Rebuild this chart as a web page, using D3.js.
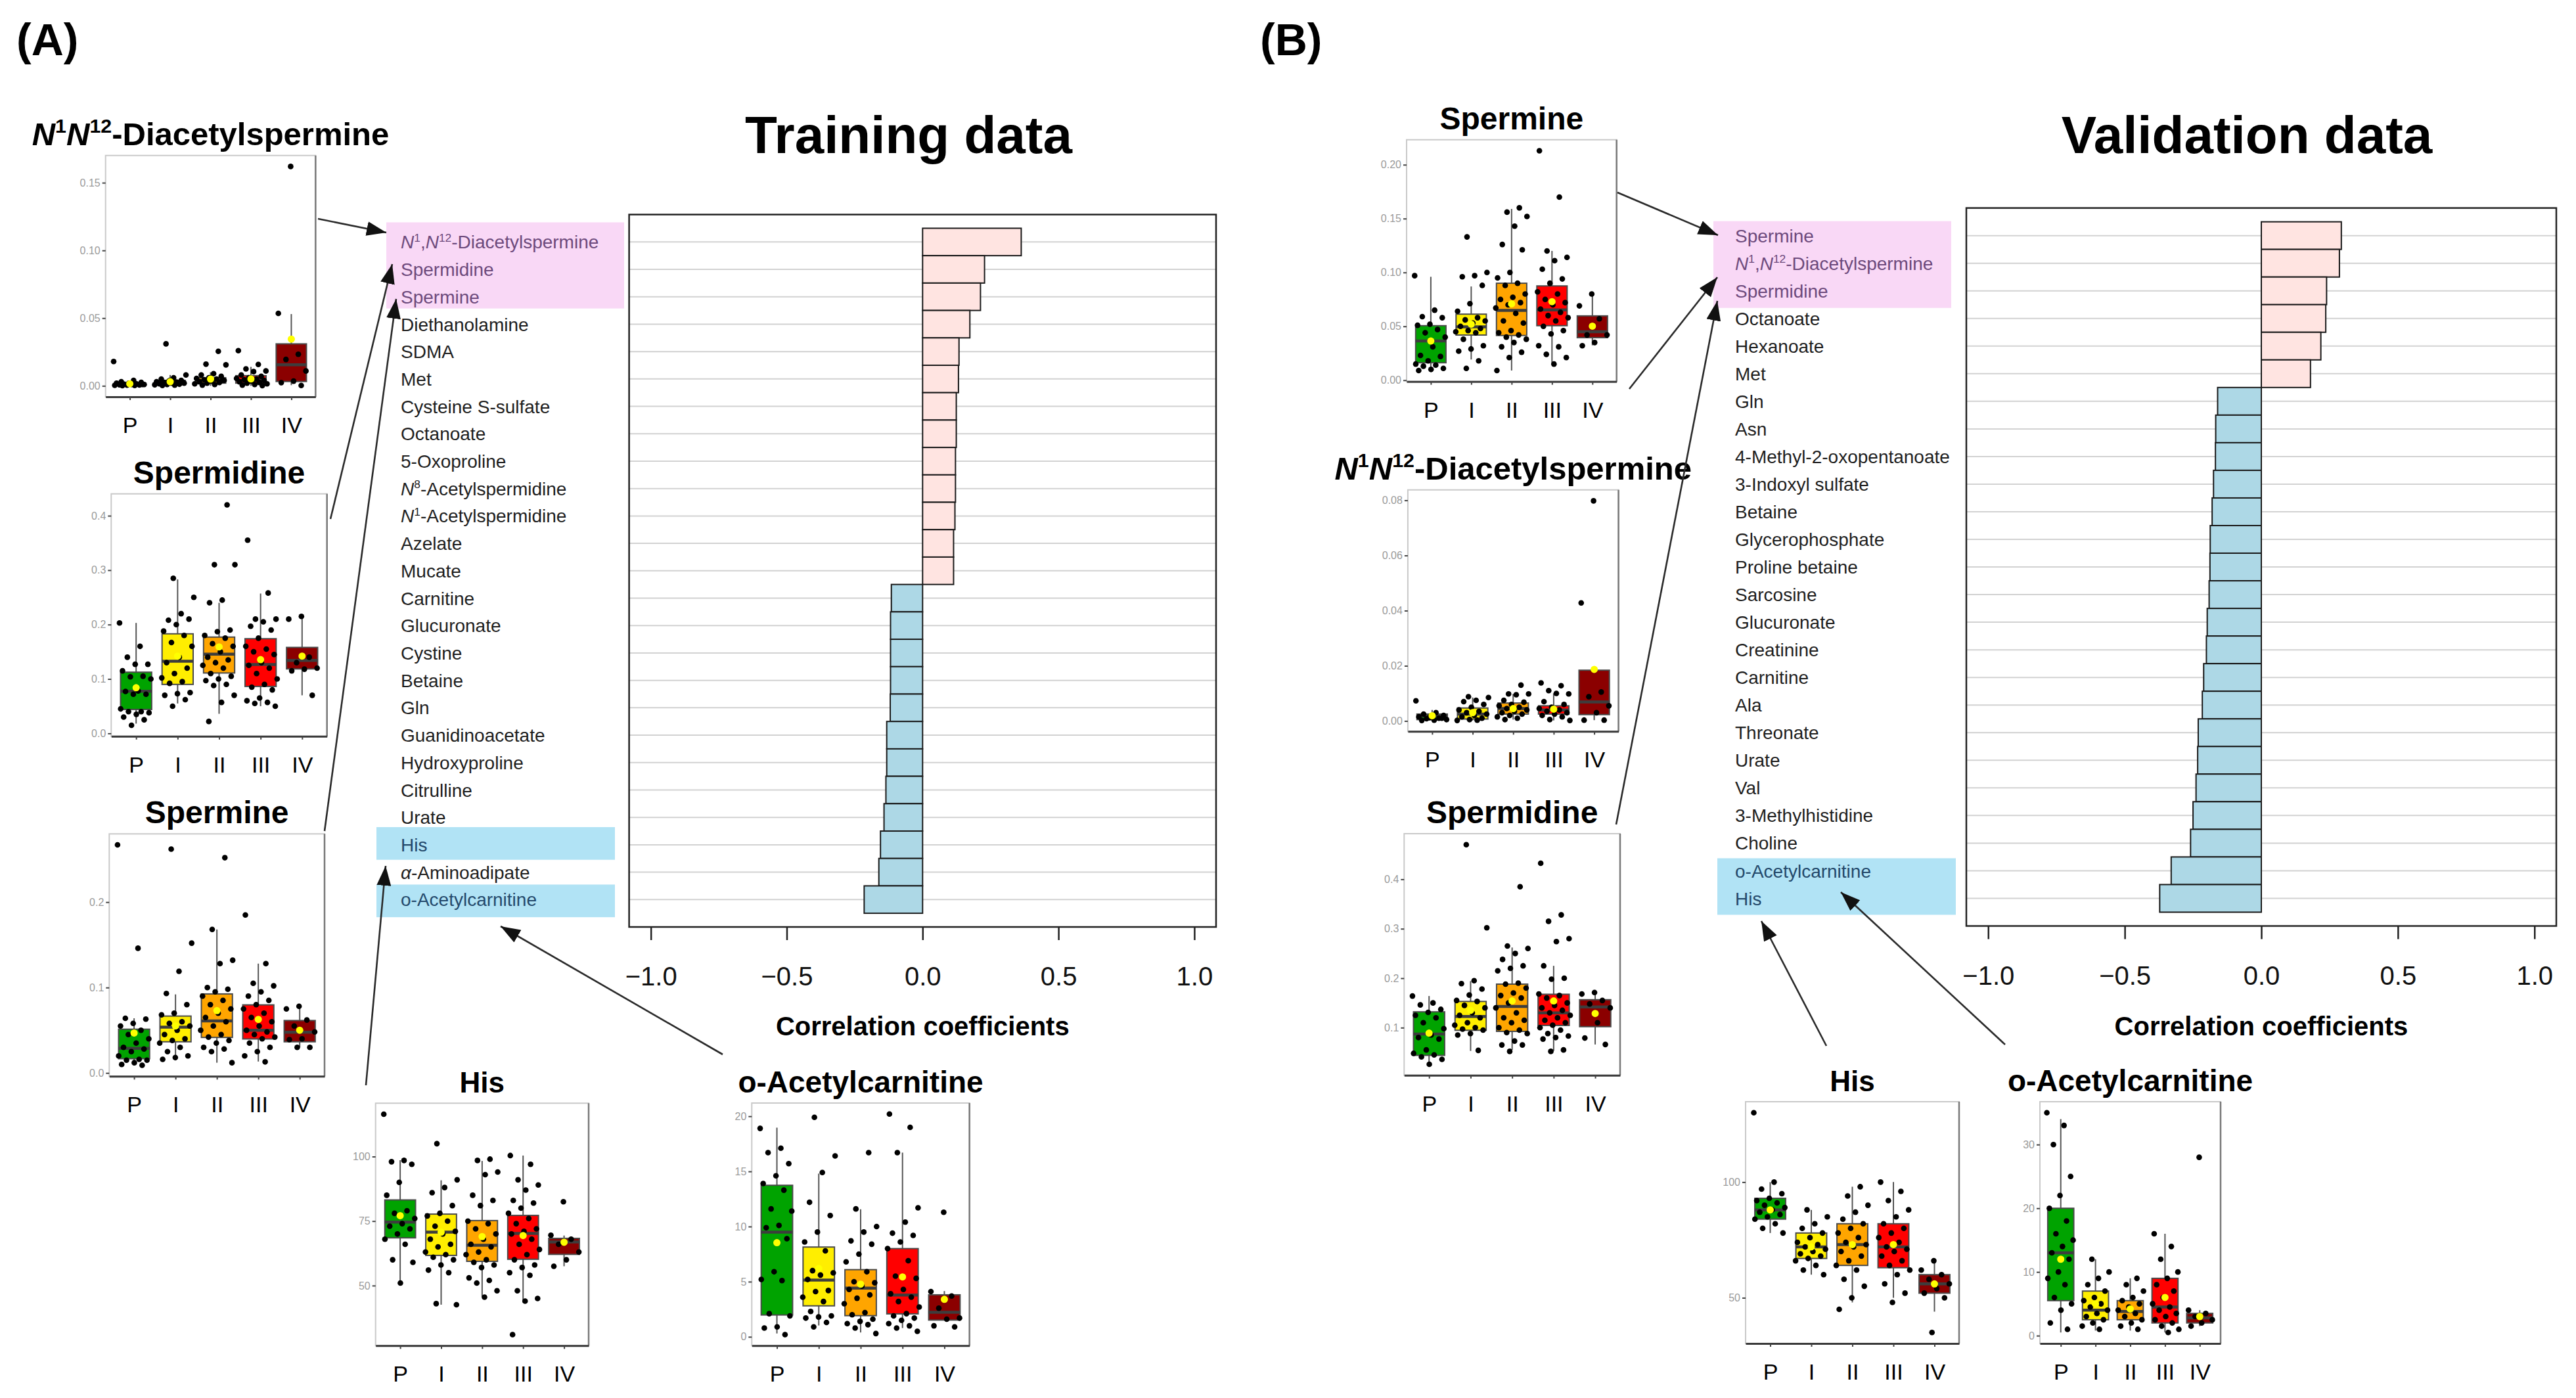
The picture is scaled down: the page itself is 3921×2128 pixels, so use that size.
<!DOCTYPE html>
<html><head><meta charset="utf-8">
<script src="https://cdn.jsdelivr.net/npm/d3@7"></script>
<style>
body{margin:0;background:#fff;}
svg{display:block;font-family:"Liberation Sans",Arial,Helvetica,sans-serif;}
</style></head><body>
<svg id="fig" width="3921" height="2128"></svg>
<script>
// ================= DATA =================
const stageGroups = ["P", "I", "II", "III", "IV"];
const corrTicks = [-1, -0.5, 0, 0.5, 1];

const trainLabels = ["*N*^{1},*N*^{12}-Diacetylspermine", "Spermidine", "Spermine", "Diethanolamine", "SDMA", "Met",
  "Cysteine S-sulfate", "Octanoate", "5-Oxoproline", "*N*^{8}-Acetylspermidine", "*N*^{1}-Acetylspermidine", "Azelate",
  "Mucate", "Carnitine", "Glucuronate", "Cystine", "Betaine", "Gln", "Guanidinoacetate", "Hydroxyproline",
  "Citrulline", "Urate", "His", "*α*-Aminoadipate", "o-Acetylcarnitine"];
const trainValues = [0.363, 0.228, 0.213, 0.174, 0.134, 0.132, 0.124, 0.124, 0.121, 0.121, 0.119, 0.114, 0.114,
  -0.115, -0.118, -0.118, -0.118, -0.119, -0.132, -0.132, -0.135, -0.142, -0.155, -0.161, -0.215];

const validLabels = ["Spermine", "*N*^{1},*N*^{12}-Diacetylspermine", "Spermidine", "Octanoate", "Hexanoate", "Met",
  "Gln", "Asn", "4-Methyl-2-oxopentanoate", "3-Indoxyl sulfate", "Betaine", "Glycerophosphate", "Proline betaine",
  "Sarcosine", "Glucuronate", "Creatinine", "Carnitine", "Ala", "Threonate", "Urate", "Val", "3-Methylhistidine",
  "Choline", "o-Acetylcarnitine", "His"];
const validValues = [0.293, 0.286, 0.239, 0.236, 0.218, 0.180, -0.160, -0.167, -0.168, -0.175, -0.180, -0.187,
  -0.188, -0.191, -0.198, -0.201, -0.211, -0.216, -0.231, -0.233, -0.239, -0.250, -0.259, -0.330, -0.372];

// Box statistics per stage: [lower whisker, Q1, median, Q3, upper whisker, mean]
const trDiacetylStats = [[0.0, 0.0005, 0.001, 0.002, 0.004, 0.0015], [0.0, 0.001, 0.002, 0.004, 0.008, 0.003],
  [0.0, 0.002, 0.004, 0.006, 0.010, 0.005], [0.0, 0.002, 0.004, 0.0075, 0.014, 0.0051], [0.0005, 0.0032, 0.0155, 0.031, 0.053, 0.0345]];
const trDiacetylPoints = [
  [0.018, 0.004, 0.003, 0.0025, 0.002, 0.002, 0.0015, 0.0012, 0.001, 0.001, 0.0008, 0.0006, 0.0005, 0.0004, 0.0003, 0.0002, 0.001, 0.0015],
  [0.031, 0.008, 0.006, 0.005, 0.004, 0.0035, 0.003, 0.0028, 0.0025, 0.002, 0.002, 0.0015, 0.0012, 0.001, 0.0008, 0.0005, 0.0003, 0.003, 0.004],
  [0.0255, 0.016, 0.0155, 0.009, 0.008, 0.007, 0.006, 0.0055, 0.005, 0.0045, 0.004, 0.0035, 0.003, 0.0025, 0.002, 0.0015, 0.001, 0.0005, 0.004, 0.006],
  [0.026, 0.0158, 0.0125, 0.011, 0.0105, 0.008, 0.007, 0.006, 0.0055, 0.005, 0.0045, 0.004, 0.0035, 0.003, 0.0025, 0.002, 0.0015, 0.001, 0.0005, 0.0002],
  [0.162, 0.0535, 0.0233, 0.0195, 0.0110, 0.0035, 0.0023, 0.0003]];
const trDiacetylTicks = [0, 0.05, 0.10, 0.15];

const trSpermidineStats = [[0.018, 0.044, 0.0774, 0.1125, 0.203, 0.084], [0.055, 0.090, 0.1327, 0.183, 0.283, 0.142],
  [0.036, 0.111, 0.1456, 0.177, 0.240, 0.159], [0.050, 0.0863, 0.1266, 0.174, 0.257, 0.1355], [0.070, 0.1185, 0.134, 0.158, 0.211, 0.142]];
const trSpermidinePoints = [
  [0.203, 0.16, 0.14, 0.127, 0.127, 0.115, 0.105, 0.104, 0.10, 0.078, 0.077, 0.072, 0.072, 0.045, 0.04, 0.04, 0.038, 0.035, 0.03, 0.025, 0.015],
  [0.285, 0.25, 0.22, 0.208, 0.21, 0.20, 0.188, 0.18, 0.167, 0.16, 0.14, 0.13, 0.12, 0.11, 0.102, 0.095, 0.092, 0.075, 0.073, 0.07, 0.062, 0.05],
  [0.42, 0.31, 0.31, 0.245, 0.24, 0.19, 0.187, 0.18, 0.175, 0.165, 0.16, 0.15, 0.14, 0.135, 0.13, 0.125, 0.12, 0.11, 0.105, 0.10, 0.097, 0.09, 0.088, 0.07, 0.057, 0.022],
  [0.355, 0.258, 0.21, 0.21, 0.205, 0.197, 0.19, 0.175, 0.16, 0.155, 0.15, 0.145, 0.13, 0.125, 0.12, 0.11, 0.10, 0.09, 0.085, 0.08, 0.065, 0.06, 0.057, 0.055, 0.05],
  [0.215, 0.21, 0.14, 0.13, 0.12, 0.118, 0.115, 0.07]];
const trSpermidineTicks = [0, 0.1, 0.2, 0.3, 0.4];

const trSpermineStats = [[0.009, 0.0167, 0.0288, 0.0512, 0.064, 0.0468], [0.016, 0.0365, 0.0537, 0.0666, 0.092, 0.055],
  [0.012, 0.0416, 0.061, 0.0925, 0.168, 0.073], [0.0134, 0.0398, 0.050, 0.0797, 0.128, 0.0627], [0.030, 0.0365, 0.0476, 0.0614, 0.0756, 0.050]];
const trSperminePoints = [
  [0.267, 0.146, 0.064, 0.063, 0.058, 0.055, 0.05, 0.045, 0.04, 0.035, 0.03, 0.028, 0.025, 0.02, 0.016, 0.015, 0.015, 0.012, 0.01, 0.009],
  [0.262, 0.152, 0.119, 0.093, 0.08, 0.07, 0.068, 0.06, 0.058, 0.055, 0.05, 0.045, 0.04, 0.038, 0.035, 0.03, 0.025, 0.02, 0.018, 0.016],
  [0.252, 0.168, 0.132, 0.128, 0.10, 0.098, 0.095, 0.09, 0.085, 0.08, 0.075, 0.07, 0.065, 0.06, 0.055, 0.05, 0.045, 0.042, 0.038, 0.035, 0.03, 0.028, 0.025, 0.012],
  [0.185, 0.128, 0.105, 0.102, 0.095, 0.09, 0.085, 0.08, 0.075, 0.07, 0.065, 0.06, 0.055, 0.05, 0.048, 0.045, 0.042, 0.04, 0.035, 0.03, 0.025, 0.02, 0.013],
  [0.078, 0.075, 0.062, 0.055, 0.048, 0.04, 0.039, 0.03, 0.03]];
const trSpermineTicks = [0, 0.1, 0.2];

const trHisStats = [[50.7, 68.5, 74.6, 83.2, 98.6, 77.1], [42.6, 61.7, 70.7, 77.7, 90.8, 70.7],
  [45.7, 59.4, 65.6, 75.2, 98.3, 69.0], [43.5, 60.2, 70.2, 77.2, 100.4, 69.4], [57.5, 62.1, 66.9, 68.3, 69.4, 66.8]];
const trHisPoints = [
  [116.4, 98.5, 98, 97, 90, 85, 79, 78, 76, 74, 73, 72, 70, 68, 66, 60, 59, 51],
  [105, 91, 88, 86, 81, 78, 77, 75, 73, 71, 70, 68, 66, 65, 63, 62, 61, 60, 58, 56, 55, 43, 42.6],
  [99, 98.5, 94, 93, 85, 83, 81, 75, 74, 72, 70, 68, 66, 65, 63, 62, 60, 59, 58, 57, 53, 52, 51, 48, 45.5],
  [100.4, 97, 91, 89, 87, 83, 82, 80, 78, 76, 74, 72, 71, 70, 68, 66, 64, 62, 60, 58, 57, 55, 54, 48, 45, 44, 31],
  [82.5, 69.5, 68, 66, 63, 60, 57.5]];
const trHisTicks = [50, 75, 100];

const trAcetylStats = [[0.3, 1.98, 9.49, 13.74, 18.97, 8.54], [1.03, 2.81, 5.14, 8.14, 14.8, 6.2],
  [0.4, 1.92, 4.41, 6.09, 11.56, 4.78], [0.79, 2.08, 3.79, 8.0, 16.7, 5.43], [1.52, 1.52, 2.23, 3.81, 4.15, 3.40]];
const trAcetylPoints = [
  [18.9, 17.1, 16.7, 15.7, 14.6, 13.9, 13.3, 11.6, 11.4, 10.1, 9.9, 8.9, 5.9, 5.2, 5.1, 2.1, 1.9, 0.9, 0.8, 0.2],
  [19.9, 16.4, 14.9, 12.2, 11.0, 9.5, 8.6, 7.8, 6.0, 5.8, 5.6, 5.2, 4.2, 4.1, 3.6, 3.2, 2.3, 1.9, 1.8, 1.7, 1.3, 0.9],
  [16.7, 11.6, 10.0, 9.5, 8.7, 8.4, 7.5, 6.8, 5.9, 5.0, 4.9, 4.6, 4.3, 3.8, 3.5, 3.0, 2.2, 2.0, 1.6, 1.4, 1.2, 1.1, 0.8, 0.3],
  [20.2, 19.0, 16.7, 11.7, 10.4, 9.4, 9.2, 8.6, 8.0, 6.9, 5.5, 5.3, 4.3, 3.9, 3.6, 3.2, 2.7, 2.1, 1.9, 1.7, 1.5, 1.2, 1.0, 0.8, 0.5],
  [11.3, 4.1, 3.7, 2.6, 1.7, 1.6, 1.0, 0.9]];
const trAcetylTicks = [0, 5, 10, 15, 20];

const vaSpermineStats = [[0.009, 0.0162, 0.0364, 0.0506, 0.096, 0.0364], [0.0192, 0.0419, 0.0496, 0.0613, 0.087, 0.052],
  [0.009, 0.0415, 0.0648, 0.090, 0.159, 0.0709], [0.0152, 0.0506, 0.0652, 0.0875, 0.120, 0.0729], [0.0324, 0.0395, 0.045, 0.0597, 0.079, 0.0502]];
const vaSperminePoints = [
  [0.097, 0.065, 0.059, 0.058, 0.052, 0.051, 0.047, 0.044, 0.040, 0.031, 0.023, 0.022, 0.018, 0.015, 0.014, 0.013, 0.011, 0.010, 0.009],
  [0.133, 0.100, 0.097, 0.096, 0.088, 0.071, 0.064, 0.058, 0.056, 0.055, 0.053, 0.050, 0.048, 0.046, 0.045, 0.044, 0.038, 0.032, 0.029, 0.027, 0.018, 0.011],
  [0.160, 0.156, 0.152, 0.143, 0.126, 0.121, 0.100, 0.095, 0.090, 0.088, 0.080, 0.077, 0.075, 0.072, 0.070, 0.067, 0.062, 0.055, 0.053, 0.046, 0.044, 0.042, 0.040, 0.038, 0.035, 0.031, 0.026, 0.021, 0.009],
  [0.213, 0.170, 0.120, 0.114, 0.111, 0.103, 0.094, 0.090, 0.082, 0.080, 0.075, 0.072, 0.070, 0.066, 0.063, 0.060, 0.058, 0.055, 0.050, 0.046, 0.043, 0.032, 0.031, 0.024, 0.021, 0.015],
  [0.080, 0.069, 0.057, 0.042, 0.042, 0.035, 0.032]];
const vaSpermineTicks = [0, 0.05, 0.10, 0.15, 0.20];

const vaDiacetylStats = [[0.0002, 0.0005, 0.0018, 0.0025, 0.004, 0.0019], [0.0002, 0.0007, 0.0025, 0.0047, 0.0085, 0.003],
  [0.0005, 0.0025, 0.0045, 0.0065, 0.0098, 0.0045], [0.0002, 0.0025, 0.004, 0.0055, 0.010, 0.0043], [0.0003, 0.0023, 0.0069, 0.0184, 0.0184, 0.0187]];
const vaDiacetylPoints = [
  [0.0073, 0.003, 0.0025, 0.002, 0.0018, 0.0015, 0.001, 0.0008, 0.0005, 0.0003, 0.0002, 0.001, 0.0012],
  [0.0088, 0.0085, 0.0075, 0.007, 0.006, 0.005, 0.004, 0.0035, 0.003, 0.0025, 0.002, 0.0015, 0.001, 0.0005, 0.0002, 0.0003],
  [0.013, 0.0098, 0.0098, 0.0095, 0.0075, 0.0068, 0.006, 0.0055, 0.005, 0.0045, 0.004, 0.0035, 0.003, 0.0025, 0.002, 0.0015, 0.001, 0.0005],
  [0.0138, 0.0128, 0.011, 0.0098, 0.010, 0.007, 0.006, 0.005, 0.0045, 0.004, 0.0035, 0.003, 0.0025, 0.002, 0.0015, 0.0005, 0.0002],
  [0.0798, 0.0428, 0.0105, 0.0088, 0.0055, 0.003, 0.0003, 0.0003]];
const vaDiacetylTicks = [0, 0.02, 0.04, 0.06, 0.08];

const vaSpermidineStats = [[0.031, 0.044, 0.087, 0.132, 0.164, 0.089], [0.053, 0.0947, 0.1225, 0.153, 0.194, 0.135],
  [0.055, 0.0925, 0.143, 0.188, 0.262, 0.154], [0.053, 0.1045, 0.130, 0.1675, 0.225, 0.154], [0.066, 0.102, 0.142, 0.1565, 0.169, 0.1287]];
const vaSpermidinePoints = [
  [0.164, 0.150, 0.146, 0.137, 0.131, 0.125, 0.12, 0.11, 0.098, 0.085, 0.08, 0.077, 0.055, 0.048, 0.045, 0.041, 0.036, 0.026],
  [0.47, 0.302, 0.195, 0.189, 0.178, 0.166, 0.155, 0.153, 0.145, 0.14, 0.13, 0.125, 0.12, 0.11, 0.105, 0.10, 0.097, 0.095, 0.088, 0.085, 0.054],
  [0.385, 0.265, 0.26, 0.25, 0.238, 0.225, 0.22, 0.215, 0.19, 0.188, 0.18, 0.17, 0.165, 0.16, 0.15, 0.14, 0.13, 0.12, 0.115, 0.11, 0.10, 0.095, 0.09, 0.088, 0.073, 0.065, 0.065, 0.052],
  [0.4325, 0.328, 0.315, 0.28, 0.274, 0.225, 0.20, 0.198, 0.168, 0.165, 0.16, 0.15, 0.145, 0.14, 0.135, 0.13, 0.125, 0.12, 0.115, 0.11, 0.105, 0.10, 0.095, 0.088, 0.083, 0.08, 0.077, 0.055, 0.052],
  [0.171, 0.168, 0.155, 0.148, 0.14, 0.11, 0.079, 0.066]];
const vaSpermidineTicks = [0.1, 0.2, 0.3, 0.4];

const vaHisStats = [[78, 84, 88, 93, 100, 88], [60, 67, 72, 78, 88, 72], [48, 64, 73, 82, 98, 73],
  [50, 63, 72, 82, 100, 73], [44, 52, 56, 60, 66, 56]];
const vaHisPoints = [
  [130, 100, 97, 95, 93, 92, 91, 90, 89, 88, 87, 86, 85, 84, 82, 80, 78],
  [88, 85, 82, 80, 78, 76, 74, 73, 72, 71, 70, 69, 68, 67, 66, 64, 62, 60],
  [98, 94, 90, 87, 84, 82, 80, 78, 76, 74, 73, 72, 70, 68, 66, 64, 62, 58, 55, 50, 45],
  [100, 96, 92, 88, 85, 82, 80, 78, 76, 74, 72, 71, 70, 68, 66, 64, 62, 60, 56, 52, 48],
  [66, 62, 60, 58, 56, 54, 52, 50, 35]];
const vaHisTicks = [50, 100];

const vaAcetylStats = [[0.5, 5.5, 13, 20, 34, 12], [0.8, 2.5, 4, 7, 12, 5], [0.8, 2.5, 3.8, 5.5, 9, 4.2],
  [0.5, 2, 4.5, 9, 16, 6], [1.5, 2, 2.8, 3.5, 4, 3]];
const vaAcetylPoints = [
  [35, 33, 30, 25, 22, 20, 18, 16, 15, 14, 13, 12, 10, 9, 8, 6, 5, 4, 2, 1],
  [12, 10, 9, 8, 7, 6, 5.5, 5, 4.5, 4, 3.5, 3, 2.5, 2, 1.5, 1],
  [9, 8, 7, 6, 5.5, 5, 4.5, 4, 3.5, 3, 2.5, 2, 1.5, 1],
  [16, 14, 12, 10, 9, 8, 7, 6, 5, 4.5, 4, 3.5, 3, 2.5, 2, 1.5, 1, 0.5],
  [28, 4, 3.5, 3, 2.5, 2, 1.5]];
const vaAcetylTicks = [0, 10, 20, 30];

// ================= STYLE / LAYOUT =================
const stageColors = ["#00a300", "#ffee00", "#ffa500", "#ff0000", "#8b0000"];
const posFill = "#ffe4e1", negFill = "#add8e6";
const pinkBg = "#f9d8f6", blueBg = "#b1e3f5";
const pinkText = "#6d4a7c", blueText = "#24496b";

const corrLayout = [
  { labels: trainLabels, values: trainValues, frame: [957.6, 326.6, 1851, 1411], labelX: 610,
    title: "Training data", titleX: 1383,
    highlights: [
      { from: 0, to: 2, x0: 588, x1: 950, padTop: 9, padBottom: -3, fill: pinkBg, text: pinkText },
      { from: 22, to: 22, x0: 573, x1: 936, padTop: 6, padBottom: 2, fill: blueBg, text: blueText },
      { from: 24, to: 24, x0: 573, x1: 936, padTop: 2, padBottom: 6, fill: blueBg, text: blueText }] },
  { labels: validLabels, values: validValues, frame: [2993, 316.6, 3891, 1409.5], labelX: 2641,
    title: "Validation data", titleX: 3420,
    highlights: [
      { from: 0, to: 2, x0: 2608, x1: 2970, padTop: 1, padBottom: 5, fill: pinkBg, text: pinkText },
      { from: 23, to: 24, x0: 2614, x1: 2977, padTop: -2, padBottom: 4, fill: blueBg, text: blueText }] }
];

const boxLayout = [
  { title: "*N*^{1}*N*^{12}-Diacetylspermine", size: 49, stats: trDiacetylStats, points: trDiacetylPoints, ticks: trDiacetylTicks, fmt: ".2f", frame: [160.7, 236.7, 480.3, 604] },
  { title: "Spermidine", size: 48, stats: trSpermidineStats, points: trSpermidinePoints, ticks: trSpermidineTicks, fmt: ".1f", frame: [169.3, 751.7, 497.7, 1120.7] },
  { title: "Spermine", size: 48, stats: trSpermineStats, points: trSperminePoints, ticks: trSpermineTicks, fmt: ".1f", frame: [166.3, 1269.3, 494, 1638.3] },
  { title: "His", size: 44, stats: trHisStats, points: trHisPoints, ticks: trHisTicks, fmt: "d", frame: [571.7, 1679.3, 896, 2048.3] },
  { title: "o-Acetylcarnitine", size: 46, stats: trAcetylStats, points: trAcetylPoints, ticks: trAcetylTicks, fmt: "d", frame: [1144.3, 1679, 1475.7, 2048.3] },
  { title: "Spermine", size: 48, stats: vaSpermineStats, points: vaSperminePoints, ticks: vaSpermineTicks, fmt: ".2f", frame: [2141, 212.7, 2460.7, 580.7] },
  { title: "*N*^{1}*N*^{12}-Diacetylspermine", size: 49, stats: vaDiacetylStats, points: vaDiacetylPoints, ticks: vaDiacetylTicks, fmt: ".2f", frame: [2142.9, 745.7, 2463.6, 1113.3] },
  { title: "Spermidine", size: 48, stats: vaSpermidineStats, points: vaSpermidinePoints, ticks: vaSpermidineTicks, fmt: ".1f", frame: [2137.3, 1269, 2466, 1636.7] },
  { title: "His", size: 44, stats: vaHisStats, points: vaHisPoints, ticks: vaHisTicks, fmt: "d", frame: [2657, 1677, 2982, 2045] },
  { title: "o-Acetylcarnitine", size: 46, stats: vaAcetylStats, points: vaAcetylPoints, ticks: vaAcetylTicks, fmt: "d", frame: [3105, 1677, 3380, 2045] }
];

const arrowLayout = [
  [[484, 333], [588, 354]], [[503, 790], [597, 402]], [[494, 1265], [603, 455]],
  [[557, 1652], [587, 1318]], [[1100, 1605], [762, 1410]],
  [[2462, 293], [2615, 358]], [[2480, 592], [2614, 422]], [[2460, 1255], [2614, 458]],
  [[2780, 1592], [2681, 1402]], [[3052, 1590], [2802, 1358]]
];

// ================= RENDER =================
const svg = d3.select("#fig");
svg.append("rect").attr("width", 3921).attr("height", 2128).attr("fill", "#fff");

function rich(sel, markup, size) {
  const parts = markup.split(/(\*[^*]+\*|\^\{[^}]+\})/).filter(s => s.length);
  let shift = 0;
  parts.forEach(p => {
    const t = sel.append("tspan");
    let target = 0;
    if (p[0] === "*") t.text(p.slice(1, -1)).attr("font-style", "italic");
    else if (p[0] === "^") { t.text(p.slice(2, -1)).attr("font-size", size * 0.62); target = -size * 0.38; }
    else t.text(p);
    if (target !== shift) { t.attr("dy", target - shift); shift = target; }
  });
}

// panel letters
svg.append("text").attr("x", 25).attr("y", 84).attr("font-size", 68).attr("font-weight", "bold").text("(A)");
svg.append("text").attr("x", 1918).attr("y", 84).attr("font-size", 68).attr("font-weight", "bold").text("(B)");

// correlation bar charts
corrLayout.forEach(cfg => {
  const [fx0, fy0, fx1, fy1] = cfg.frame;
  const g = svg.append("g");
  const x = d3.scaleLinear().domain([-1.08, 1.08]).range([fx0, fx1]);
  const y = d3.scaleBand().domain(cfg.labels).range([fy0, fy1]).paddingInner(0).paddingOuter(0.5);
  const bw = y.bandwidth();
  const textColor = new Map();
  cfg.highlights.forEach(h => {
    const top = y(cfg.labels[h.from]) - h.padTop;
    const bot = y(cfg.labels[h.to]) + bw + h.padBottom;
    g.append("rect").attr("x", h.x0).attr("y", top).attr("width", h.x1 - h.x0).attr("height", bot - top).attr("fill", h.fill);
    for (let i = h.from; i <= h.to; i++) textColor.set(cfg.labels[i], h.text);
  });
  cfg.labels.forEach(lab => {
    const t = g.append("text").attr("x", cfg.labelX).attr("y", y(lab) + bw / 2).attr("dy", "0.36em")
      .attr("font-size", 28).attr("fill", textColor.get(lab) || "#1e1e1e");
    rich(t, lab, 28);
  });
  // title
  g.append("text").attr("x", cfg.titleX).attr("y", 233).attr("text-anchor", "middle")
    .attr("font-size", 80).attr("font-weight", "bold").text(cfg.title);
  // grid lines
  g.selectAll("line.grid").data(cfg.labels).join("line")
    .attr("x1", fx0).attr("x2", fx1).attr("y1", d => y(d) + bw / 2).attr("y2", d => y(d) + bw / 2)
    .attr("stroke", "#d2d2d2").attr("stroke-width", 2);
  // bars
  g.selectAll("rect.bar").data(cfg.labels.map((l, i) => ({ l, v: cfg.values[i] }))).join("rect")
    .attr("x", d => x(Math.min(0, d.v))).attr("width", d => Math.abs(x(d.v) - x(0)))
    .attr("y", d => y(d.l)).attr("height", bw)
    .attr("fill", d => d.v >= 0 ? posFill : negFill).attr("stroke", "#1a1a1a").attr("stroke-width", 2);
  // frame
  g.append("rect").attr("x", fx0).attr("y", fy0).attr("width", fx1 - fx0).attr("height", fy1 - fy0)
    .attr("fill", "none").attr("stroke", "#222").attr("stroke-width", 2.5);
  // axis
  const ax = g.append("g").attr("transform", `translate(0,${fy1})`)
    .call(d3.axisBottom(x).tickValues(corrTicks).tickSize(20).tickPadding(41).tickFormat(d3.format(".1f")));
  ax.select(".domain").remove();
  ax.selectAll(".tick line").attr("stroke", "#222").attr("stroke-width", 2.5);
  ax.selectAll(".tick text").attr("font-size", 40).attr("fill", "#111").attr("font-family", "Liberation Sans, Arial");
  g.append("text").attr("x", (fx0 + fx1) / 2).attr("y", 1576).attr("text-anchor", "middle")
    .attr("font-size", 40).attr("font-weight", "bold").text("Correlation coefficients");
});

// boxplots
boxLayout.forEach(cfg => {
  const [x0, y0, x1, y1] = cfg.frame;
  const g = svg.append("g");
  const x = d3.scalePoint().domain(stageGroups).range([x0, x1]).padding(0.6);
  const all = cfg.points.flat().concat(cfg.stats.flat());
  const [mn, mx] = d3.extent(all);
  const pad = (mx - mn) * 0.05;
  const y = d3.scaleLinear().domain([mn - pad, mx + pad]).range([y1, y0]);
  const step = x.step();
  const bw = step * 0.75;

  g.append("rect").attr("x", x0).attr("y", y0).attr("width", x1 - x0).attr("height", y1 - y0)
    .attr("fill", "#fff").attr("stroke", "#c9c9c9").attr("stroke-width", 2);
  g.append("line").attr("x1", x1).attr("x2", x1).attr("y1", y0).attr("y2", y1).attr("stroke", "#7a7a7a").attr("stroke-width", 2.5);

  // y axis
  const ya = g.append("g").attr("transform", `translate(${x0},0)`)
    .call(d3.axisLeft(y).tickValues(cfg.ticks).tickSize(5).tickSizeOuter(0).tickPadding(3).tickFormat(d3.format(cfg.fmt)));
  ya.select(".domain").remove();
  ya.selectAll(".tick line").attr("stroke", "#444").attr("stroke-width", 2);
  ya.selectAll(".tick text").attr("font-size", 16).attr("fill", "#9a9a9a").attr("font-family", "Liberation Sans, Arial");

  // x axis
  const xa = g.append("g").attr("transform", `translate(0,${y1})`)
    .call(d3.axisBottom(x).tickSize(5).tickSizeOuter(0).tickPadding(26));
  xa.select(".domain").attr("stroke", "#3a3a3a").attr("stroke-width", 3);
  xa.selectAll(".tick line").attr("stroke", "#444").attr("stroke-width", 2);
  xa.selectAll(".tick text").attr("font-size", 34).attr("fill", "#000").attr("font-family", "Liberation Sans, Arial");

  // boxes
  cfg.stats.forEach((s, gi) => {
    const cx = x(stageGroups[gi]);
    g.append("line").attr("x1", cx).attr("x2", cx).attr("y1", y(s[0])).attr("y2", y(s[4]))
      .attr("stroke", "#555").attr("stroke-width", 2);
    g.append("rect").attr("x", cx - bw / 2).attr("width", bw).attr("y", y(s[3])).attr("height", Math.max(1, y(s[1]) - y(s[3])))
      .attr("fill", stageColors[gi]).attr("stroke", "#4a4a4a").attr("stroke-width", 2);
    g.append("line").attr("x1", cx - bw / 2).attr("x2", cx + bw / 2).attr("y1", y(s[2])).attr("y2", y(s[2]))
      .attr("stroke", "#3d3d3d").attr("stroke-width", 4.5);
  });
  // jittered points
  cfg.points.forEach((arr, gi) => {
    const cx = x(stageGroups[gi]);
    g.selectAll(null).data(arr).join("circle")
      .attr("cx", (d, i) => cx + (((i * 0.6180339887 + gi * 0.37) % 1) - 0.5) * 0.8 * step)
      .attr("cy", d => y(d)).attr("r", 4.3).attr("fill", "#000");
  });
  // means
  cfg.stats.forEach((s, gi) => {
    g.append("circle").attr("cx", x(stageGroups[gi])).attr("cy", y(s[5])).attr("r", 5.5).attr("fill", "#ffff00");
  });
  // title
  const t = g.append("text").attr("x", (x0 + x1) / 2).attr("y", y0 - 16).attr("text-anchor", "middle")
    .attr("font-size", cfg.size).attr("font-weight", "bold").attr("fill", "#000");
  rich(t, cfg.title, cfg.size);
});

// arrows
const defs = svg.append("defs");
defs.append("marker").attr("id", "ah").attr("viewBox", "0 0 14 10").attr("refX", 14).attr("refY", 5)
  .attr("markerWidth", 30).attr("markerHeight", 22).attr("markerUnits", "userSpaceOnUse")
  .attr("orient", "auto").attr("preserveAspectRatio", "none")
  .append("path").attr("d", "M0,0 L14,5 L0,10 Z").attr("fill", "#111");
svg.append("g").selectAll("line").data(arrowLayout).join("line")
  .attr("x1", d => d[0][0]).attr("y1", d => d[0][1]).attr("x2", d => d[1][0]).attr("y2", d => d[1][1])
  .attr("stroke", "#2a2a2a").attr("stroke-width", 2.6).attr("marker-end", "url(#ah)");
</script>
</body></html>
